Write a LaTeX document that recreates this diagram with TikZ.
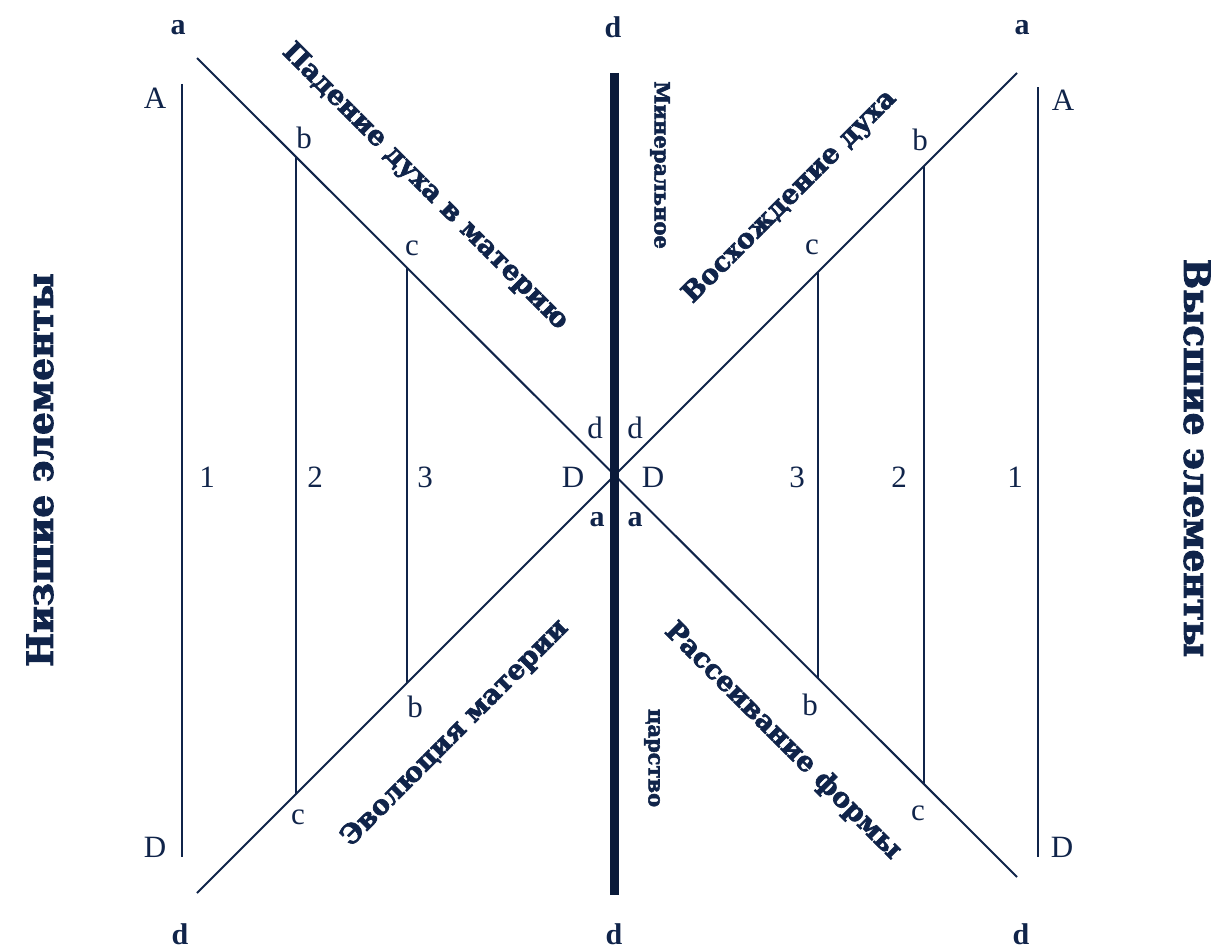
\documentclass[tikz,border=0pt]{standalone}
\usepackage{fontspec}
\setmainfont{Liberation Serif}
\newfontfamily\heavyfont{DejaVu Serif}[BoldFeatures={FakeBold=2.5}]
\definecolor{navy}{RGB}{16,36,74}
\definecolor{deepnavy}{RGB}{10,26,58}
\begin{document}
\begin{tikzpicture}[x=1pt,y=-1pt,
  thinline/.style={draw=navy,line width=2pt},
  axisline/.style={draw=deepnavy,line width=9pt},
  lbl/.style={text=navy,inner sep=0pt,font=\fontsize{31}{31}\selectfont},
  blbl/.style={text=navy,inner sep=0pt,font=\fontsize{30}{30}\selectfont\bfseries},
  diag/.style={text=navy,inner sep=0pt,font=\heavyfont\bfseries\fontsize{27}{27}\selectfont},
  side/.style={text=navy,inner sep=0pt,font=\heavyfont\bfseries\fontsize{36}{36}\selectfont},
  kingdom/.style={text=navy,inner sep=0pt,font=\heavyfont\bfseries\fontsize{21}{21}\selectfont}]
\useasboundingbox (0,0) rectangle (1229,950);
% coordinates
\coordinate (L1a) at (197,58);
\coordinate (L1d) at (1017,877);
\coordinate (L2a) at (1017,73);
\coordinate (L2d) at (197,893);
\coordinate (Ct) at (614,73);
\coordinate (Cb) at (614,895);
\coordinate (V1t) at (182,84);  \coordinate (V1b) at (182,857);
\coordinate (V2t) at (296,157); \coordinate (V2b) at (296,794);
\coordinate (V3t) at (407,268); \coordinate (V3b) at (407,683);
\coordinate (W1t) at (1038,87); \coordinate (W1b) at (1038,857);
\coordinate (W2t) at (924,166); \coordinate (W2b) at (924,785);
\coordinate (W3t) at (818,272); \coordinate (W3b) at (818,679);
% lines
\draw[thinline] (L1a) -- (L1d);
\draw[thinline] (L2a) -- (L2d);
\draw[thinline] (V1t) -- (V1b);
\draw[thinline] (V2t) -- (V2b);
\draw[thinline] (V3t) -- (V3b);
\draw[thinline] (W1t) -- (W1b);
\draw[thinline] (W2t) -- (W2b);
\draw[thinline] (W3t) -- (W3b);
\draw[axisline] (Ct) -- (Cb);
% top / bottom bold letters
\node[blbl] (ta1) at (178,28) {a};
\node[blbl] (td) at (613,27) {d};
\node[blbl] (ta2) at (1022,28) {a};
\node[blbl] (bd1) at (180,934) {d};
\node[blbl] (bd2) at (614,934) {d};
\node[blbl] (bd3) at (1021,934) {d};
% A / D
\node[lbl] (lA) at (155,98) {A};
\node[lbl] (lD) at (155,847) {D};
\node[lbl] (rA) at (1063,100) {A};
\node[lbl] (rD) at (1062,847) {D};
% b / c
\node[lbl] (lbt) at (304,138) {b};
\node[lbl] (lct) at (412,248) {c};
\node[lbl] (rbt) at (920,140) {b};
\node[lbl] (rct) at (812,247) {c};
\node[lbl] (lbb) at (415,707) {b};
\node[lbl] (lcb) at (298,817) {c};
\node[lbl] (rbb) at (810,705) {b};
\node[lbl] (rcb) at (918,813) {c};
% centre
\node[lbl] (cdl) at (595,428) {d};
\node[lbl] (cdr) at (635,428) {d};
\node[lbl] (cDl) at (573,477) {D};
\node[lbl] (cDr) at (653,477) {D};
\node[blbl] (cal) at (597,520) {a};
\node[blbl] (car) at (635,520) {a};
% numbers
\node[lbl] (n1l) at (207,477) {1};
\node[lbl] (n2l) at (315,477) {2};
\node[lbl] (n3l) at (425,477) {3};
\node[lbl] (n3r) at (797,477) {3};
\node[lbl] (n2r) at (899,477) {2};
\node[lbl] (n1r) at (1015,477) {1};
% diagonal texts
\node[diag,rotate=-45] (fall) at (425,187) {Падение духа в материю};
\node[diag,rotate=45] (ascent) at (790,197) {Восхождение духа};
\node[diag,rotate=45] (evol) at (455,733) {Эволюция материи};
\node[diag,rotate=-45] (scatter) at (783,741) {Рассеивание формы};
% side texts
\node[side,rotate=90] (lower) at (40,470) {Низшие элементы};
\node[side,rotate=-90] (higher) at (1197,458) {Высшие элементы};
\node[kingdom,rotate=-90] (mineral) at (660,165) {Минеральное};
\node[kingdom,rotate=-90] (realm) at (652,758) {царство};
\end{tikzpicture}
\end{document}
